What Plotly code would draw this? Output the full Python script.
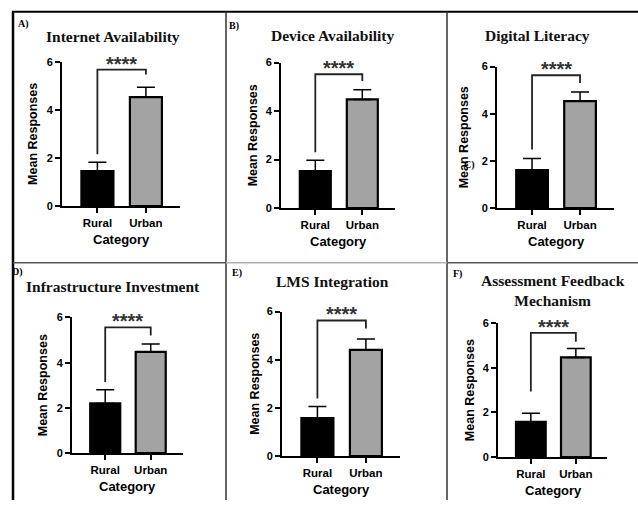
import plotly.graph_objects as go

W, H = 638, 506

# ---------------- data ----------------
categories = ["Rural", "Urban"]
titles = ["Internet Availability", "Device Availability", "Digital Literacy",
          "Infrastructure Investment", "LMS Integration",
          "Assessment Feedback<br>Mechanism"]
panel_letters = ["A)", "B)", "C)", "D)", "E)", "F)"]
rural_mean = [1.46, 1.53, 1.61, 2.20, 1.58, 1.58]
urban_mean = [4.53, 4.48, 4.53, 4.48, 4.41, 4.47]
rural_sd = [0.36, 0.44, 0.49, 0.60, 0.48, 0.39]
urban_sd = [0.41, 0.40, 0.39, 0.35, 0.45, 0.40]
bracket_top = [5.67, 5.52, 5.63, 5.56, 5.63, 5.57]
bracket_left_end = [2.15, 2.30, 2.48, 3.15, 2.39, 2.94]
bracket_right_end = [5.47, 5.24, 5.30, 5.20, 5.30, 5.17]
sig_label = "****"
y_ticks = [0, 2, 4, 6]
x_label = "Category"
y_label = "Mean Responses"

# ---------------- layout (pixels) ----------------
axis_x0 = [62, 281, 497, 72, 282, 498]
step_px = [48.5, 47, 48, 45.5, 48.5, 45]
y0_px = [205, 207, 207, 458, 461, 462]
y6_px = [57, 58, 62, 319, 313, 325]
title_pos = [(113, 31), (333, 30), (537, 30), (113, 287), (332, 282), (553, 291)]
letter_pos = [(23, 18), (234, 20), (469, 163), (17, 272), (237, 273), (457, 274)]
ytitle_off = [29, 28, 33, 29, 27, 28]

XR = [-0.73, 1.70]
SPAN = XR[1] - XR[0]

fig = go.Figure()
layout = dict(width=W, height=H, margin=dict(l=0, r=0, t=0, b=0),
              paper_bgcolor="white", plot_bgcolor="white", showlegend=False)

sans = "Arial, Liberation Sans, sans-serif"
serif = "Times New Roman, Liberation Serif, serif"
annotations = []
shapes = []

for i in range(6):
    xa = "x" if i == 0 else f"x{i+1}"
    ya = "y" if i == 0 else f"y{i+1}"
    xkey = "xaxis" if i == 0 else f"xaxis{i+1}"
    ykey = "yaxis" if i == 0 else f"yaxis{i+1}"
    x0 = axis_x0[i]
    x1 = x0 + SPAN * step_px[i]
    layout[xkey] = dict(domain=[x0 / W, x1 / W], range=XR, anchor=ya,
                        tickvals=[0, 1], ticktext=categories,
                        showline=True, linecolor="black", linewidth=2,
                        ticks="outside", ticklen=5, tickwidth=1.5, tickcolor="black",
                        tickfont=dict(family=sans, size=11.5, color="black", weight="bold"),
                        showgrid=False, zeroline=False, fixedrange=True)
    layout[ykey] = dict(domain=[1 - y0_px[i] / H, 1 - y6_px[i] / H], range=[0, 6],
                        anchor=xa, tickvals=y_ticks,
                        showline=True, linecolor="black", linewidth=2,
                        ticks="outside", ticklen=5, tickwidth=1.5, tickcolor="black",
                        tickfont=dict(family=sans, size=11, color="black", weight="bold"),
                        showgrid=False, zeroline=False, fixedrange=True)

    fig.add_trace(go.Bar(
        x=[0, 1], y=[rural_mean[i], urban_mean[i]], width=0.66,
        marker=dict(color=["black", "#a3a3a3"], line=dict(color="black", width=2.2)),
        error_y=dict(type="data", symmetric=False,
                     array=[rural_sd[i], urban_sd[i]], arrayminus=[0, 0],
                     color="black", thickness=1.5, width=9),
        xaxis=xa, yaxis=ya, hoverinfo="skip"))

    fig.add_trace(go.Scatter(
        x=[0, 0, 1, 1],
        y=[bracket_left_end[i], bracket_top[i], bracket_top[i], bracket_right_end[i]],
        mode="lines", line=dict(color="#222222", width=1.8),
        xaxis=xa, yaxis=ya, hoverinfo="skip"))

    annotations.append(dict(x=0.5, y=bracket_top[i], xref=xa, yref=ya,
                            text=f"<b>{sig_label}</b>", showarrow=False,
                            yanchor="bottom", yshift=-7,
                            font=dict(family=sans, size=20, color="#333333")))

    tx, ty = title_pos[i]
    annotations.append(dict(x=tx / W, y=1 - ty / H, xref="paper", yref="paper",
                            text=f"<b>{titles[i]}</b>", showarrow=False,
                            xanchor="center", yanchor="middle",
                            font=dict(family=serif, size=15.5, color="#111111")))
    lx, ly = letter_pos[i]
    annotations.append(dict(x=lx / W, y=1 - ly / H, xref="paper", yref="paper",
                            text=f"<b>{panel_letters[i]}</b>", showarrow=False,
                            xanchor="center", yanchor="middle",
                            font=dict(family=serif, size=10, color="black")))
    annotations.append(dict(x=(x0 - ytitle_off[i]) / W,
                            y=1 - ((y0_px[i] + y6_px[i]) / 2) / H,
                            xref="paper", yref="paper", text=f"<b>{y_label}</b>",
                            textangle=-90, showarrow=False,
                            xanchor="center", yanchor="middle",
                            font=dict(family=sans, size=12.5, color="black")))
    annotations.append(dict(x=(x0 + (0 - XR[0]) * step_px[i] + 0.5 * step_px[i]) / W,
                            y=1 - (y0_px[i] + 34) / H,
                            xref="paper", yref="paper", text=f"<b>{x_label}</b>",
                            showarrow=False, xanchor="center", yanchor="middle",
                            font=dict(family=sans, size=13, color="black")))

def pline(xa, ya, xb, yb, color="black", width=2):
    shapes.append(dict(type="line", xref="paper", yref="paper",
                       x0=xa / W, y0=1 - ya / H, x1=xb / W, y1=1 - yb / H,
                       line=dict(color=color, width=width)))

pline(12, 6, 638, 6, "black", 2)
pline(13, 6, 13, 506, "black", 2.5)
pline(226, 6, 226, 506, "#333333", 1.5)
pline(447, 6, 447, 506, "#333333", 1.5)
pline(13, 263, 226, 263, "#555555", 1.5)
pline(226, 263, 447, 263, "#b0b0b0", 1.5)
pline(447, 263, 638, 263, "#555555", 1.5)

layout["annotations"] = annotations
layout["shapes"] = shapes
fig.update_layout(**layout)
fig.write_html("out.html", config={"displayModeBar": False},
               post_script="document.body.style.margin='0';document.body.style.overflow='hidden';")
